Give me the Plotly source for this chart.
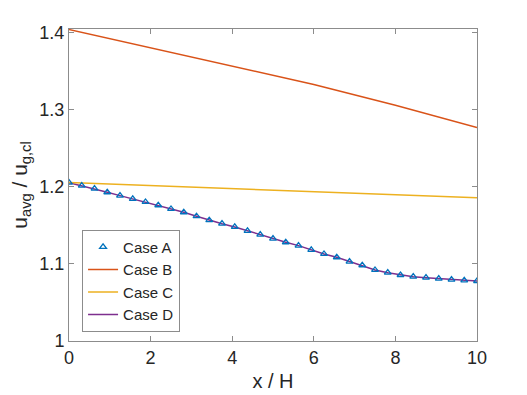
import plotly.graph_objects as go

# x / H positions of the Case A markers (and Case D line)
x_ad = [i * 0.3125 for i in range(33)]
u_ad = [1.2056, 1.2017, 1.1978, 1.1931, 1.1887, 1.1844, 1.1805, 1.1762, 1.1714, 1.1671,
        1.1620, 1.1568, 1.1523, 1.1481, 1.1429, 1.1381, 1.1329, 1.1282, 1.1238, 1.1182,
        1.1130, 1.1087, 1.1030, 1.0983, 1.0922, 1.0887, 1.0857, 1.0835, 1.0822, 1.0809,
        1.0796, 1.0788, 1.0779]

x_b = [0, 2, 4, 6, 8, 10]
u_b = [1.4043, 1.3806, 1.3570, 1.3330, 1.3060, 1.2772]

x_c = [0, 5, 10]
u_c = [1.2056, 1.1960, 1.1860]

x_ticks = [0, 2, 4, 6, 8, 10]
y_ticks = [1, 1.1, 1.2, 1.3, 1.4]
y_tick_labels = ["1", "1.1", "1.2", "1.3", "1.4"]

FONT = "Liberation Sans, Arial, Helvetica, sans-serif"
AX = "#8c8c8c"

fig = go.Figure()

fig.add_trace(go.Scatter(x=x_ad, y=u_ad, mode="lines", name="Case D",
                         line=dict(color="#7E2F8E", width=1.5), legendrank=4))
fig.add_trace(go.Scatter(x=x_b, y=u_b, mode="lines", name="Case B",
                         line=dict(color="#D95319", width=1.5), legendrank=2))
fig.add_trace(go.Scatter(x=x_c, y=u_c, mode="lines", name="Case C",
                         line=dict(color="#EDB120", width=1.5), legendrank=3))
fig.add_trace(go.Scatter(x=x_ad, y=u_ad, mode="markers", name="Case A",
                         marker=dict(symbol="triangle-up-open", size=6, color="#0072BD",
                                     line=dict(width=1.3, color="#0072BD")),
                         legendrank=1))

axis_common = dict(showline=True, linecolor=AX, linewidth=1, mirror="ticks",
                   ticks="inside", tickcolor=AX, ticklen=5, showgrid=False,
                   zeroline=False, automargin=False,
                   tickfont=dict(size=18, color="#262626"))

fig.update_xaxes(range=[0, 10], tickvals=x_ticks,
                 title=dict(text="x / H", font=dict(size=20, color="#262626"), standoff=7),
                 **axis_common)
fig.update_yaxes(range=[1, 1.405], tickvals=y_ticks, ticktext=y_tick_labels,
                 title=dict(text="u<sub>avg</sub> / u<sub>g,cl</sub>",
                            font=dict(size=21, color="#262626"), standoff=13),
                 **axis_common)

# the page body adds an 8 px offset, so the margins are shifted to compensate
fig.update_layout(
    width=527, height=395,
    margin=dict(l=61, r=58, t=21, b=62),
    plot_bgcolor="white", paper_bgcolor="white",
    font=dict(family=FONT, color="#262626"),
    legend=dict(x=0.032, y=0.03, xanchor="left", yanchor="bottom",
                bgcolor="white", bordercolor=AX, borderwidth=1,
                font=dict(size=15), tracegroupgap=0, itemwidth=30),
)

fig.write_html("out.html")
